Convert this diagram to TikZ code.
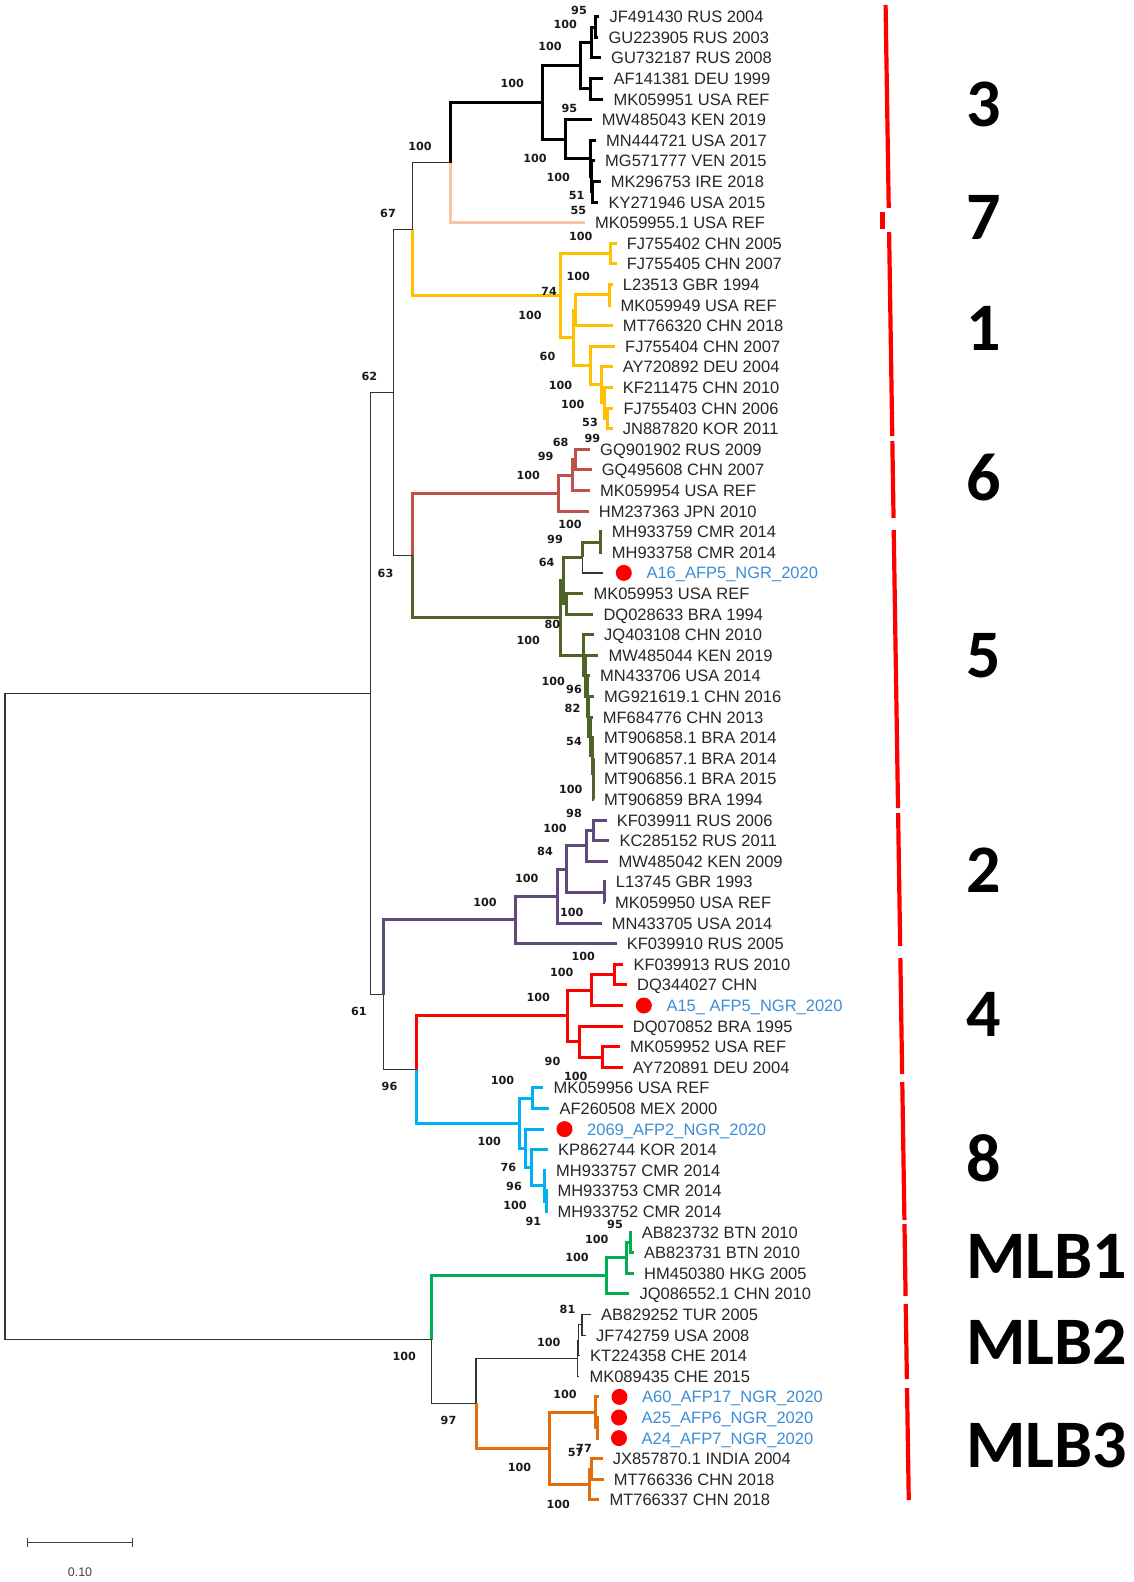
\documentclass[tikz,border=0pt]{standalone}
\usepackage{fontspec}
\setmainfont{Liberation Sans}
\newfontfamily\bsfont{DejaVu Sans}
\newfontfamily\cladefont{Carlito}
\usetikzlibrary{calc}

\definecolor{peach}{HTML}{F7C6A3}
\definecolor{gold}{HTML}{FFC000}
\definecolor{brick}{HTML}{C0504D}
\definecolor{olive}{HTML}{4F6228}
\definecolor{grape}{HTML}{5F497A}
\definecolor{sky}{HTML}{00B0F0}
\definecolor{leafgreen}{HTML}{00B050}
\definecolor{pumpkin}{HTML}{E46C0A}
\definecolor{ngrblue}{HTML}{3C8DD6}
\definecolor{barred}{HTML}{FF0000}

\tikzset{
  leaf/.style={anchor=west,inner xsep=10pt,inner ysep=0pt,text height=11.8pt,text depth=0pt,
    font=\fontsize{16.5}{18}\selectfont,text=black!85},
  ngr/.style={leaf,inner xsep=43pt,text=ngrblue},
  dot/.style={fill=barred},
  bs/.style={inner sep=0pt,font=\bsfont\bfseries\fontsize{11.2}{12}\selectfont,text=black!90},
  clade/.style={anchor=west,inner sep=0pt,font=\cladefont\bfseries\fontsize{68}{72}\selectfont},
  thin/.style={line width=1.2pt,draw=black!80},
  cl3/.style={line width=3pt,draw=black},
  cl7/.style={line width=3pt,draw=peach},
  cl1/.style={line width=3pt,draw=gold},
  cl6/.style={line width=3pt,draw=brick},
  cl5/.style={line width=3pt,draw=olive},
  cl2/.style={line width=3pt,draw=grape},
  cl4/.style={line width=3pt,draw=barred},
  cl8/.style={line width=3pt,draw=sky},
  mone/.style={line width=3pt,draw=leafgreen},
  mthree/.style={line width=3pt,draw=pumpkin},
  cladebar/.style={line width=4.2pt,draw=barred},
  scalebar/.style={line width=1.2pt,draw=black!75}
}

% internal node: name, x, upper child, lower child, upper style, lower style
\newcommand{\joinnode}[6]{%
  \path let \p1=($(#3)!.5!(#4)$) in (#2pt,\y1) coordinate (#1);
  \draw[#5] (#3) -| (#1);
  \draw[#6] (#1) |- (#4);
}

\begin{document}
\begin{tikzpicture}[x=1pt,y=-1pt]
  \useasboundingbox (0,0) rectangle (1133,1582);

  % leaves
  \node[leaf] (l1) at (599.3,16.7) {JF491430 RUS 2004};
  \node[leaf] (l2) at (598.3,37.3) {GU223905 RUS 2003};
  \node[leaf] (l3) at (601,57.9) {GU732187 RUS 2008};
  \node[leaf] (l4) at (603.3,78.5) {AF141381 DEU 1999};
  \node[leaf] (l5) at (603.3,99.1) {MK059951 USA REF};
  \node[leaf] (l6) at (591.7,119.7) {MW485043 KEN 2019};
  \node[leaf] (l7) at (596,140.3) {MN444721 USA 2017};
  \node[leaf] (l8) at (595,160.9) {MG571777 VEN 2015};
  \node[leaf] (l9) at (600.7,181.5) {MK296753 IRE 2018};
  \node[leaf] (l10) at (598.3,202.1) {KY271946 USA 2015};
  \node[leaf] (l11) at (585,222.7) {MK059955.1 USA REF};
  \node[leaf] (l12) at (616.7,243.3) {FJ755402 CHN 2005};
  \node[leaf] (l13) at (616.7,263.9) {FJ755405 CHN 2007};
  \node[leaf] (l14) at (612.7,284.5) {L23513 GBR 1994};
  \node[leaf] (l15) at (610.5,305.1) {MK059949 USA REF};
  \node[leaf] (l16) at (612.7,325.7) {MT766320 CHN 2018};
  \node[leaf] (l17) at (615,346.3) {FJ755404 CHN 2007};
  \node[leaf] (l18) at (612.7,366.9) {AY720892 DEU 2004};
  \node[leaf] (l19) at (612.7,387.5) {KF211475 CHN 2010};
  \node[leaf] (l20) at (613.3,408.1) {FJ755403 CHN 2006};
  \node[leaf] (l21) at (612.7,428.7) {JN887820 KOR 2011};
  \node[leaf] (l22) at (590,449.3) {GQ901902 RUS 2009};
  \node[leaf] (l23) at (591.7,469.9) {GQ495608 CHN 2007};
  \node[leaf] (l24) at (590,490.5) {MK059954 USA REF};
  \node[leaf] (l25) at (588.7,511.1) {HM237363 JPN 2010};
  \node[leaf] (l26) at (601.7,531.7) {MH933759 CMR 2014};
  \node[leaf] (l27) at (601.7,552.3) {MH933758 CMR 2014};
  \node[ngr] (l28) at (603.3,572.9) {A16\_AFP5\_NGR\_2020};
  \node[leaf] (l29) at (583.3,593.5) {MK059953 USA REF};
  \node[leaf] (l30) at (593.3,614.1) {DQ028633 BRA 1994};
  \node[leaf] (l31) at (594,634.7) {JQ403108 CHN 2010};
  \node[leaf] (l32) at (598.3,655.3) {MW485044 KEN 2019};
  \node[leaf] (l33) at (590,675.9) {MN433706 USA 2014};
  \node[leaf] (l34) at (594,696.5) {MG921619.1 CHN 2016};
  \node[leaf] (l35) at (592.7,717.1) {MF684776 CHN 2013};
  \node[leaf] (l36) at (594,737.7) {MT906858.1 BRA 2014};
  \node[leaf] (l37) at (594,758.3) {MT906857.1 BRA 2014};
  \node[leaf] (l38) at (594,778.9) {MT906856.1 BRA 2015};
  \node[leaf] (l39) at (594,799.5) {MT906859 BRA 1994};
  \node[leaf] (l40) at (606.7,820.1) {KF039911 RUS 2006};
  \node[leaf] (l41) at (609.3,840.7) {KC285152 RUS 2011};
  \node[leaf] (l42) at (608.3,861.3) {MW485042 KEN 2009};
  \node[leaf] (l43) at (605.7,881.9) {L13745 GBR 1993};
  \node[leaf] (l44) at (605,902.5) {MK059950 USA REF};
  \node[leaf] (l45) at (601.7,923.1) {MN433705 USA 2014};
  \node[leaf] (l46) at (616.7,943.7) {KF039910 RUS 2005};
  \node[leaf] (l47) at (623.3,964.3) {KF039913 RUS 2010};
  \node[leaf] (l48) at (627,984.9) {DQ344027 CHN};
  \node[ngr] (l49) at (623.3,1005.5) {A15\_ AFP5\_NGR\_2020};
  \node[leaf] (l50) at (622.7,1026.1) {DQ070852 BRA 1995};
  \node[leaf] (l51) at (620,1046.7) {MK059952 USA REF};
  \node[leaf] (l52) at (622.7,1067.3) {AY720891 DEU 2004};
  \node[leaf] (l53) at (543.3,1087.9) {MK059956 USA REF};
  \node[leaf] (l54) at (549.3,1108.5) {AF260508 MEX 2000};
  \node[ngr] (l55) at (544,1129.1) {2069\_AFP2\_NGR\_2020};
  \node[leaf] (l56) at (548,1149.7) {KP862744 KOR 2014};
  \node[leaf] (l57) at (546,1170.3) {MH933757 CMR 2014};
  \node[leaf] (l58) at (547.3,1190.9) {MH933753 CMR 2014};
  \node[leaf] (l59) at (547.3,1211.5) {MH933752 CMR 2014};
  \node[leaf] (l60) at (631.7,1232.1) {AB823732 BTN 2010};
  \node[leaf] (l61) at (634,1252.7) {AB823731 BTN 2010};
  \node[leaf] (l62) at (634,1273.3) {HM450380 HKG 2005};
  \node[leaf] (l63) at (629.3,1293.9) {JQ086552.1 CHN 2010};
  \node[leaf] (l64) at (591,1314.5) {AB829252 TUR 2005};
  \node[leaf] (l65) at (586,1335.1) {JF742759 USA 2008};
  \node[leaf] (l66) at (580,1355.7) {KT224358 CHE 2014};
  \node[leaf] (l67) at (579.3,1376.3) {MK089435 CHE 2015};
  \node[ngr] (l68) at (599,1396.9) {A60\_AFP17\_NGR\_2020};
  \node[ngr] (l69) at (598.5,1417.5) {A25\_AFP6\_NGR\_2020};
  \node[ngr] (l70) at (598.5,1438.1) {A24\_AFP7\_NGR\_2020};
  \node[leaf] (l71) at (602.7,1458.7) {JX857870.1 INDIA 2004};
  \node[leaf] (l72) at (603.7,1479.3) {MT766336 CHN 2018};
  \node[leaf] (l73) at (599.3,1499.9) {MT766337 CHN 2018};

  % red dots for the new isolates
  \fill[dot] ([xshift=20.5pt]l28.west) circle (8pt);
  \fill[dot] ([xshift=20.5pt]l49.west) circle (8pt);
  \fill[dot] ([xshift=20.5pt]l55.west) circle (8pt);
  \fill[dot] ([xshift=20.5pt]l68.west) circle (8pt);
  \fill[dot] ([xshift=20.5pt]l69.west) circle (8pt);
  \fill[dot] ([xshift=20.5pt]l70.west) circle (8pt);

  % genotype 3 and 7
  \joinnode{a1}{595}{l1.west}{l2.west}{cl3}{cl3}
  \joinnode{a2}{591.3}{a1}{l3.west}{cl3}{cl3}
  \joinnode{a4}{590}{l4.west}{l5.west}{cl3}{cl3}
  \joinnode{a3}{580.7}{a2}{a4}{cl3}{cl3}
  \joinnode{a9}{592.7}{l9.west}{l10.west}{cl3}{cl3}
  \joinnode{a8}{591.3}{l8.west}{a9}{cl3}{cl3}
  \joinnode{a7}{590}{l7.west}{a8}{cl3}{cl3}
  \joinnode{a6}{565.7}{l6.west}{a7}{cl3}{cl3}
  \joinnode{a5}{542.7}{a3}{a6}{cl3}{cl3}
  \joinnode{b37}{450}{a5}{l11.west}{cl3}{cl7}
  % genotype 1
  \joinnode{d2}{610}{l12.west}{l13.west}{cl1}{cl1}
  \joinnode{d5}{609.5}{l14.west}{l15.west}{cl1}{cl1}
  \joinnode{d4}{575}{d5}{l16.west}{cl1}{cl1}
  \joinnode{d9}{607.3}{l20.west}{l21.west}{cl1}{cl1}
  \joinnode{d8}{604}{l19.west}{d9}{cl1}{cl1}
  \joinnode{d7}{601.7}{l18.west}{d8}{cl1}{cl1}
  \joinnode{d6}{590}{l17.west}{d7}{cl1}{cl1}
  \joinnode{d3}{573.3}{d4}{d6}{cl1}{cl1}
  \joinnode{d1}{560}{d2}{d3}{cl1}{cl1}
  \joinnode{c67}{412.7}{b37}{d1}{thin}{cl1}
  % genotype 6
  \joinnode{i3}{575}{l22.west}{l23.west}{cl6}{cl6}
  \joinnode{i2}{572.7}{i3}{l24.west}{cl6}{cl6}
  \joinnode{i1}{558.3}{i2}{l25.west}{cl6}{cl6}
  % genotype 5
  \joinnode{j3}{600}{l26.west}{l27.west}{cl5}{cl5}
  \joinnode{j2}{582.7}{j3}{l28.west}{cl5}{thin}
  \joinnode{j5}{566.7}{l29.west}{l30.west}{cl5}{cl5}
  \joinnode{j4}{563.3}{j2}{j5}{cl5}{cl5}
  \joinnode{k8}{593.3}{l38.west}{l39.west}{cl5}{cl5}
  \joinnode{k7}{593}{l37.west}{k8}{cl5}{cl5}
  \joinnode{k6}{592.7}{l36.west}{k7}{cl5}{cl5}
  \joinnode{k5}{590}{l35.west}{k6}{cl5}{cl5}
  \joinnode{k4}{588.5}{l34.west}{k5}{cl5}{cl5}
  \joinnode{k3}{587}{l33.west}{k4}{cl5}{cl5}
  \joinnode{k2}{585.5}{l32.west}{k3}{cl5}{cl5}
  \joinnode{k1}{583.3}{l31.west}{k2}{cl5}{cl5}
  \joinnode{j0}{560}{j4}{k1}{cl5}{cl5}
  \joinnode{h63}{412.7}{i1}{j0}{cl6}{cl5}
  \joinnode{e62}{393.3}{c67}{h63}{thin}{thin}
  % genotype 2
  \joinnode{g6}{593.3}{l40.west}{l41.west}{cl2}{cl2}
  \joinnode{g4}{586}{g6}{l42.west}{cl2}{cl2}
  \joinnode{g5}{604}{l43.west}{l44.west}{cl2}{cl2}
  \joinnode{g3}{566}{g4}{g5}{cl2}{cl2}
  \joinnode{g2}{557.3}{g3}{l45.west}{cl2}{cl2}
  \joinnode{g1}{515.7}{g2}{l46.west}{cl2}{cl2}
  % genotype 4
  \joinnode{r4}{614}{l47.west}{l48.west}{cl4}{cl4}
  \joinnode{r2}{591.7}{r4}{l49.west}{cl4}{cl4}
  \joinnode{r5}{602.7}{l51.west}{l52.west}{cl4}{cl4}
  \joinnode{r3}{579}{l50.west}{r5}{cl4}{cl4}
  \joinnode{r1}{567.3}{r2}{r3}{cl4}{cl4}
  % genotype 8
  \joinnode{o2}{532.7}{l53.west}{l54.west}{cl8}{cl8}
  \joinnode{o6}{546.5}{l58.west}{l59.west}{cl8}{cl8}
  \joinnode{o5}{544}{l57.west}{o6}{cl8}{cl8}
  \joinnode{o4}{531.7}{l56.west}{o5}{cl8}{cl8}
  \joinnode{o3}{525}{l55.west}{o4}{cl8}{cl8}
  \joinnode{o1}{519.3}{o2}{o3}{cl8}{cl8}
  \joinnode{m96}{416}{r1}{o1}{cl4}{cl8}
  \joinnode{g61}{383.3}{g1}{m96}{cl2}{thin}
  \joinnode{f1}{370.7}{e62}{g61}{thin}{thin}
  % MLB1
  \joinnode{s3}{630.7}{l60.west}{l61.west}{mone}{mone}
  \joinnode{s2}{626.7}{s3}{l62.west}{mone}{mone}
  \joinnode{s1}{606.7}{s2}{l63.west}{mone}{mone}
  % MLB2
  \joinnode{t1}{582}{l64.west}{l65.west}{thin}{thin}
  \joinnode{t2}{578.7}{t1}{l66.west}{thin}{thin}
  \joinnode{t0}{577.5}{t2}{l67.west}{thin}{thin}
  % MLB3
  \joinnode{u4}{597}{l69.west}{l70.west}{mthree}{mthree}
  \joinnode{u1}{595.5}{l68.west}{u4}{mthree}{mthree}
  \joinnode{u3}{591.7}{l71.west}{l72.west}{mthree}{mthree}
  \joinnode{u2}{589.3}{u3}{l73.west}{mthree}{mthree}
  \joinnode{u0}{549.3}{u1}{u2}{mthree}{mthree}
  \joinnode{q97}{476}{t0}{u0}{thin}{mthree}
  \joinnode{p100}{431.7}{s1}{q97}{mone}{thin}
  \joinnode{root}{5}{f1}{p100}{thin}{thin}

  % bootstrap values
  \node[bs] (b1) at (579,10) {95};
  \node[bs] (b2) at (565.3,24) {100};
  \node[bs] (b3) at (550,46.7) {100};
  \node[bs] (b4) at (512.3,83.3) {100};
  \node[bs] (b5) at (569.3,108.3) {95};
  \node[bs] (b6) at (535,158.3) {100};
  \node[bs] (b7) at (558.3,177.7) {100};
  \node[bs] (b8) at (576.7,195.7) {51};
  \node[bs] (b9) at (578.3,210.7) {55};
  \node[bs] (b10) at (420,146.7) {100};
  \node[bs] (b11) at (388,213) {67};
  \node[bs] (b12) at (580.8,236.7) {100};
  \node[bs] (b13) at (549,291.7) {74};
  \node[bs] (b14) at (578.3,276.7) {100};
  \node[bs] (b15) at (530,315) {100};
  \node[bs] (b16) at (547.5,356.7) {60};
  \node[bs] (b17) at (560.5,385) {100};
  \node[bs] (b18) at (572.7,404) {100};
  \node[bs] (b19) at (590,422.3) {53};
  \node[bs] (b20) at (369.3,376.4) {62};
  \node[bs] (b21) at (560.7,442.3) {68};
  \node[bs] (b22) at (592.3,438.3) {99};
  \node[bs] (b23) at (545.7,456.7) {99};
  \node[bs] (b24) at (528.3,475) {100};
  \node[bs] (b25) at (570,524.3) {100};
  \node[bs] (b26) at (555,539.3) {99};
  \node[bs] (b27) at (546.7,562.3) {64};
  \node[bs] (b28) at (552.3,624) {80};
  \node[bs] (b29) at (528.3,640) {100};
  \node[bs] (b30) at (553.3,681) {100};
  \node[bs] (b31) at (574,689.3) {96};
  \node[bs] (b32) at (572.5,708.3) {82};
  \node[bs] (b33) at (574,741.7) {54};
  \node[bs] (b34) at (570.8,789) {100};
  \node[bs] (b35) at (385.5,573) {63};
  \node[bs] (b36) at (574,813.3) {98};
  \node[bs] (b37) at (555,828.3) {100};
  \node[bs] (b38) at (545,851.7) {84};
  \node[bs] (b39) at (526.7,878.3) {100};
  \node[bs] (b40) at (485,902.7) {100};
  \node[bs] (b41) at (571.7,912.3) {100};
  \node[bs] (b42) at (358.8,1011.7) {61};
  \node[bs] (b43) at (583.3,956.7) {100};
  \node[bs] (b44) at (561.7,972.3) {100};
  \node[bs] (b45) at (538.3,997.3) {100};
  \node[bs] (b46) at (552.5,1061.7) {90};
  \node[bs] (b47) at (389.5,1086) {96};
  \node[bs] (b48) at (502.5,1080.7) {100};
  \node[bs] (b49) at (575.8,1076.7) {100};
  \node[bs] (b50) at (489.2,1141.7) {100};
  \node[bs] (b51) at (508.3,1167.3) {76};
  \node[bs] (b52) at (514,1186.7) {96};
  \node[bs] (b53) at (515,1205) {100};
  \node[bs] (b54) at (533.3,1221.7) {91};
  \node[bs] (b55) at (615,1224) {95};
  \node[bs] (b56) at (596.7,1239.3) {100};
  \node[bs] (b57) at (577,1257.3) {100};
  \node[bs] (b58) at (404.2,1356) {100};
  \node[bs] (b59) at (567.5,1309.3) {81};
  \node[bs] (b60) at (548.7,1342.7) {100};
  \node[bs] (b61) at (565,1394) {100};
  \node[bs] (b62) at (448.5,1420.7) {97};
  \node[bs] (b63) at (575.7,1452.7) {57};
  \node[bs] (b64) at (584,1448) {77};
  \node[bs] (b65) at (519.5,1467.3) {100};
  \node[bs] (b66) at (558.3,1504.3) {100};

  % genotype bars
  \foreach \ya/\yb in {5/208,232/436,441/518,530/808,813/946,958/1074,1082/1220,1224/1296,1304/1379,1388/1500}
    \draw[cladebar] ({885.5+0.0155*\ya},\ya) -- ({885.5+0.0155*\yb},\yb);
  \draw[cladebar] (882.5,212) -- (882.5,229);

  % genotype names
  \node[clade] (k3) at (966,104) {3};
  \node[clade] (k7) at (966,217) {7};
  \node[clade] (k1) at (966,328) {1};
  \node[clade] (k6) at (966,478) {6};
  \node[clade] (k5) at (966,656) {5};
  \node[clade] (k2) at (966,870) {2};
  \node[clade] (k4) at (966,1014) {4};
  \node[clade] (k8) at (966,1158) {8};
  \node[clade] (km1) at (966,1256) {MLB1};
  \node[clade] (km2) at (966,1342) {MLB2};
  \node[clade] (km3) at (966,1445) {MLB3};

  % scale
  \coordinate (sb1) at (27.3,1542.7);
  \coordinate (sb2) at (132.3,1542.7);
  \draw[scalebar] (sb1) -- (sb2);
  \draw[scalebar] ([yshift=4.5pt]sb1) -- ([yshift=-4.5pt]sb1);
  \draw[scalebar] ([yshift=4.5pt]sb2) -- ([yshift=-4.5pt]sb2);
  \node[font=\fontsize{12.5}{14}\selectfont,text=black!75] (sblabel) at (80,1571.7) {0.10};
\end{tikzpicture}
\end{document}
